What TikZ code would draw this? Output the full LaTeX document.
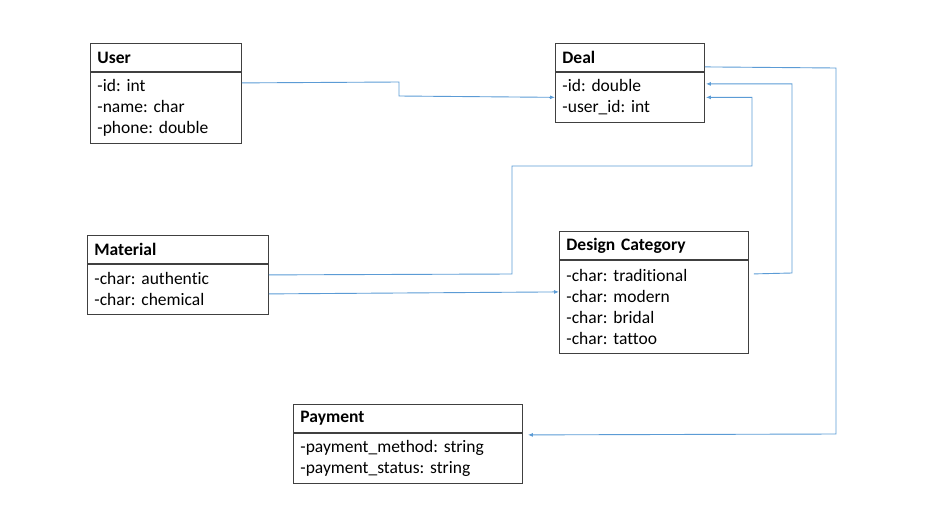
\documentclass[tikz,border=0pt]{standalone}
\usepackage{fontspec}
\setmainfont{Carlito}[Ligatures={NoCommon}]
\usetikzlibrary{positioning,arrows.meta}
\definecolor{linkblue}{RGB}{91,155,213}
\frenchspacing
\tikzset{
  classhead/.style={draw=black!75, line width=0.9pt, anchor=north west, inner xsep=7pt, inner ysep=0pt,
    align=left, minimum height=28pt, font=\fontsize{17.5}{21}\selectfont\bfseries},
  classbody/.style={draw=black!75, line width=0.9pt, anchor=north west, inner xsep=7pt, inner ysep=0pt,
    align=left, font=\fontsize{17.5}{21}\selectfont},
  link/.style={draw=linkblue, line width=0.9pt, -{Latex[length=5pt,width=4pt]}},
}
\begin{document}
\begin{tikzpicture}[x=1pt, y=-1pt]
\useasboundingbox (0,0) rectangle (928,514);
% classes
\node[classhead, text width=137pt] (user) at (90,43) {User};
\node[classbody, text width=137pt, minimum height=71pt] (userbody) at (user.south west) {-id: int\\-name: char\\-phone: double};
\node[classhead, text width=135pt] (deal) at (555,43) {Deal};
\node[classbody, text width=135pt, minimum height=50pt] (dealbody) at (deal.south west) {-id: double\\-user\_id: int};
\node[classhead, text width=167pt] (material) at (87,235) {Material};
\node[classbody, text width=167pt, minimum height=50pt] (materialbody) at (material.south west) {-char: authentic\\-char: chemical};
\node[classhead, text width=175pt] (design) at (559,231) {Design Category};
\node[classbody, text width=175pt, minimum height=93pt] (designbody) at (design.south west) {-char: traditional\\-char: modern\\-char: bridal\\-char: tattoo};
\node[classhead, text width=215pt] (payment) at (293,404) {Payment};
\node[classbody, text width=215pt, minimum height=50pt] (paymentbody) at (payment.south west) {-payment\_method: string\\-payment\_status: string};
% connectors
\draw[link] ([yshift=-11pt]userbody.north east) -- (399,82) -- (399,96) -- (dealbody.west);
\draw[link] ([yshift=-11pt]materialbody.north east) -- (512,274) -- (512,166) -- (752,166) |- ([xshift=1pt]dealbody.east);
\draw[link] ([yshift=-30pt]materialbody.north east) -- ([yshift=-32pt]designbody.north west);
\draw[link] ([xshift=5pt,yshift=-14pt]designbody.north east) -- (792,273) |- ([xshift=1pt,yshift=-12pt]dealbody.north east);
\draw[link] ([yshift=5pt]deal.south east) -- (836,68) -- (836,434) -- ([xshift=5pt,yshift=-2pt]paymentbody.north east);
\end{tikzpicture}
\end{document}
